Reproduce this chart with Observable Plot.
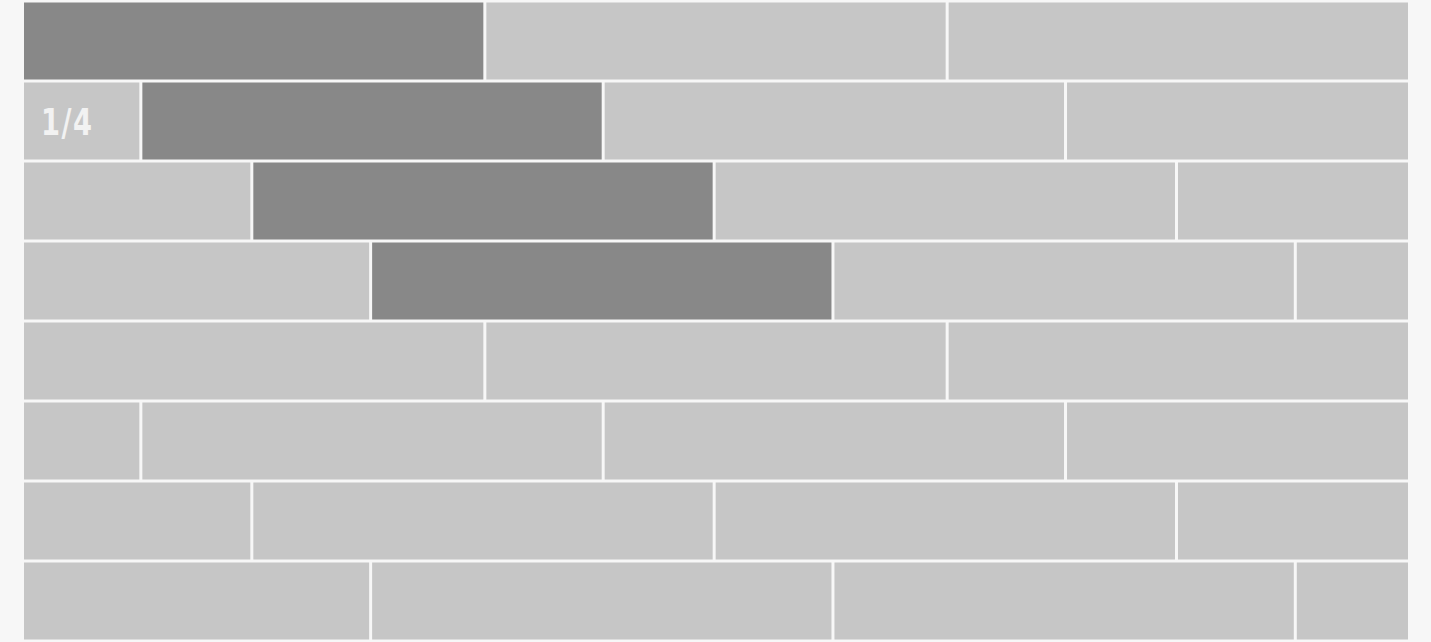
<!DOCTYPE html>
<html>
<head>
<meta charset="utf-8">
<script src="https://cdn.jsdelivr.net/npm/d3@7"></script>
<script src="https://cdn.jsdelivr.net/npm/@observablehq/plot@0.6"></script>
<style>
  html, body { margin: 0; padding: 0; background: #f7f7f7; }
  svg { display: block; }
  .brick-label text { letter-spacing: 2px; }
</style>
</head>
<body>
<div id="chart"></div>
<script>
// Rows of bricks (top to bottom) and each row's horizontal shift (in brick widths)
const rows = [0, 1, 2, 3, 4, 5, 6, 7];
const rowOffsets = [0, 0.256, 0.496, 0.753, 0, 0.256, 0.496, 0.753];
// Highlighted brick in each row: row index and brick start
const highlightRows = [0, 1, 2, 3];
const highlightStarts = [0, 0.256, 0.496, 0.753];
// Wall extent in brick widths
const wallStart = 0;
const wallEnd = 3;
// Label
const labelRows = [1];
const labelTexts = ["1/4"];

const bricks = [];
rows.forEach((r, i) => {
  const off = rowOffsets[i];
  for (let s = off - 1; s < wallEnd; s += 1) {
    const x1 = Math.max(wallStart, s);
    const x2 = Math.min(wallEnd, s + 1);
    if (x2 - x1 <= 1e-6) continue;
    const hi = highlightRows.some((hr, k) => hr === r && Math.abs(highlightStarts[k] - s) < 1e-6);
    bricks.push({row: r, x1, x2, hi});
  }
});
const labels = labelRows.map((r, i) => ({row: r, x: wallStart, text: labelTexts[i]}));

const chart = Plot.plot({
  width: 1431,
  height: 642,
  marginLeft: 22.5,
  marginRight: 21.5,
  marginTop: 1,
  marginBottom: 1,
  style: {background: "#f7f7f7"},
  x: {domain: [wallStart, wallEnd], axis: null},
  y: {domain: rows, axis: null, padding: 0},
  marks: [
    Plot.barX(bricks, {
      x1: "x1", x2: "x2", y: "row",
      fill: d => d.hi ? "#888888" : "#c6c6c6",
      insetLeft: 1.5, insetRight: 1.5, insetTop: 1.5, insetBottom: 1.5
    }),
    Plot.text(labels, {
      x: "x", y: "row", text: "text",
      textAnchor: "start", dx: 18, dy: 1,
      fill: "#f2f2f2",
      fontSize: 38, fontWeight: "bold",
      fontFamily: "'DejaVu Sans', sans-serif",
      className: "brick-label"
    })
  ]
});
// Narrow the label glyphs (condensed look) around their anchor point
d3.select(chart).selectAll(".brick-label text").each(function () {
  const t = this.getAttribute("transform") || "";
  this.setAttribute("transform", (t + " scale(0.72,1)").trim());
});
document.getElementById("chart").append(chart);
</script>
</body>
</html>
